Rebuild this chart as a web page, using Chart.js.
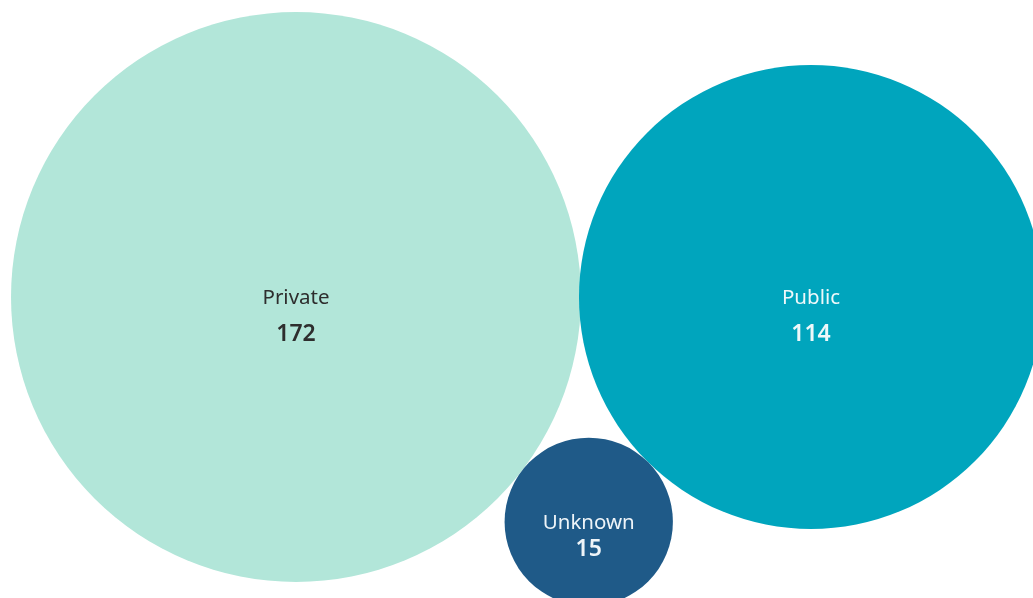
<!DOCTYPE html>
<html>
<head>
<meta charset="utf-8">
<title>Ownership</title>
<script src="https://cdn.jsdelivr.net/npm/chart.js@4.4.1/dist/chart.umd.min.js"></script>
<style>
  html, body { margin: 0; padding: 0; background: #fff; }
  #wrap { width: 1033px; height: 598px; }
</style>
</head>
<body>
<div id="wrap"><canvas id="chart"></canvas></div>
<script>
const categories = ["Private", "Public", "Unknown"];
const counts = [172, 114, 15];
const colors = ["#b2e6d9", "#00a5bd", "#1f5a88"];
const textColors = ["#2e2e2e", "#eef8fa", "#eef4f8"];

// bubble area proportional to count
const scale = 21.73;
const radii = counts.map(v => scale * Math.sqrt(v));

// pack: biggest first, second touching it on the right, third touching both underneath
function pack(r) {
  const ox = 296, oy = 297;
  const pos = [{ x: ox, y: oy }];
  const D = r[0] + r[1] - 2;
  pos.push({ x: ox + D, y: oy });
  const d1 = r[0] + r[2], d2 = r[1] + r[2];
  const a = (d1 * d1 - d2 * d2 + D * D) / (2 * D);
  const h = Math.sqrt(d1 * d1 - a * a);
  pos.push({ x: ox + a, y: oy + h });
  return pos;
}
const pos = pack(radii);

const points = categories.map((c, i) => ({ x: pos[i].x, y: pos[i].y, r: radii[i] }));

const bubbleLabels = {
  id: "bubbleLabels",
  afterDatasetsDraw(chart) {
    const ctx = chart.ctx;
    const meta = chart.getDatasetMeta(0);
    ctx.save();
    ctx.textAlign = "center";
    ctx.textBaseline = "middle";
    meta.data.forEach((el, i) => {
      const gap = Math.min(36, radii[i] * 0.32);
      ctx.fillStyle = textColors[i];
      ctx.font = "20.5px 'Noto Sans'";
      ctx.fillText(categories[i], el.x, el.y + 1);
      ctx.font = "600 23px 'Noto Sans'";
      ctx.fillText(String(counts[i]), el.x, el.y + gap + 1);
    });
    ctx.restore();
  }
};

new Chart(document.getElementById("chart"), {
  type: "bubble",
  data: {
    labels: categories,
    datasets: [{
      data: points,
      backgroundColor: colors,
      borderWidth: 0,
      hoverBorderWidth: 0,
      clip: false
    }]
  },
  options: {
    responsive: true,
    maintainAspectRatio: false,
    animation: false,
    layout: { padding: 0, autoPadding: false },
    events: [],
    plugins: { legend: { display: false }, tooltip: { enabled: false } },
    scales: {
      x: { type: "linear", min: 0, max: 1033, display: false },
      y: { type: "linear", min: 0, max: 598, reverse: true, display: false }
    }
  },
  plugins: [bubbleLabels]
});
</script>
</body>
</html>
